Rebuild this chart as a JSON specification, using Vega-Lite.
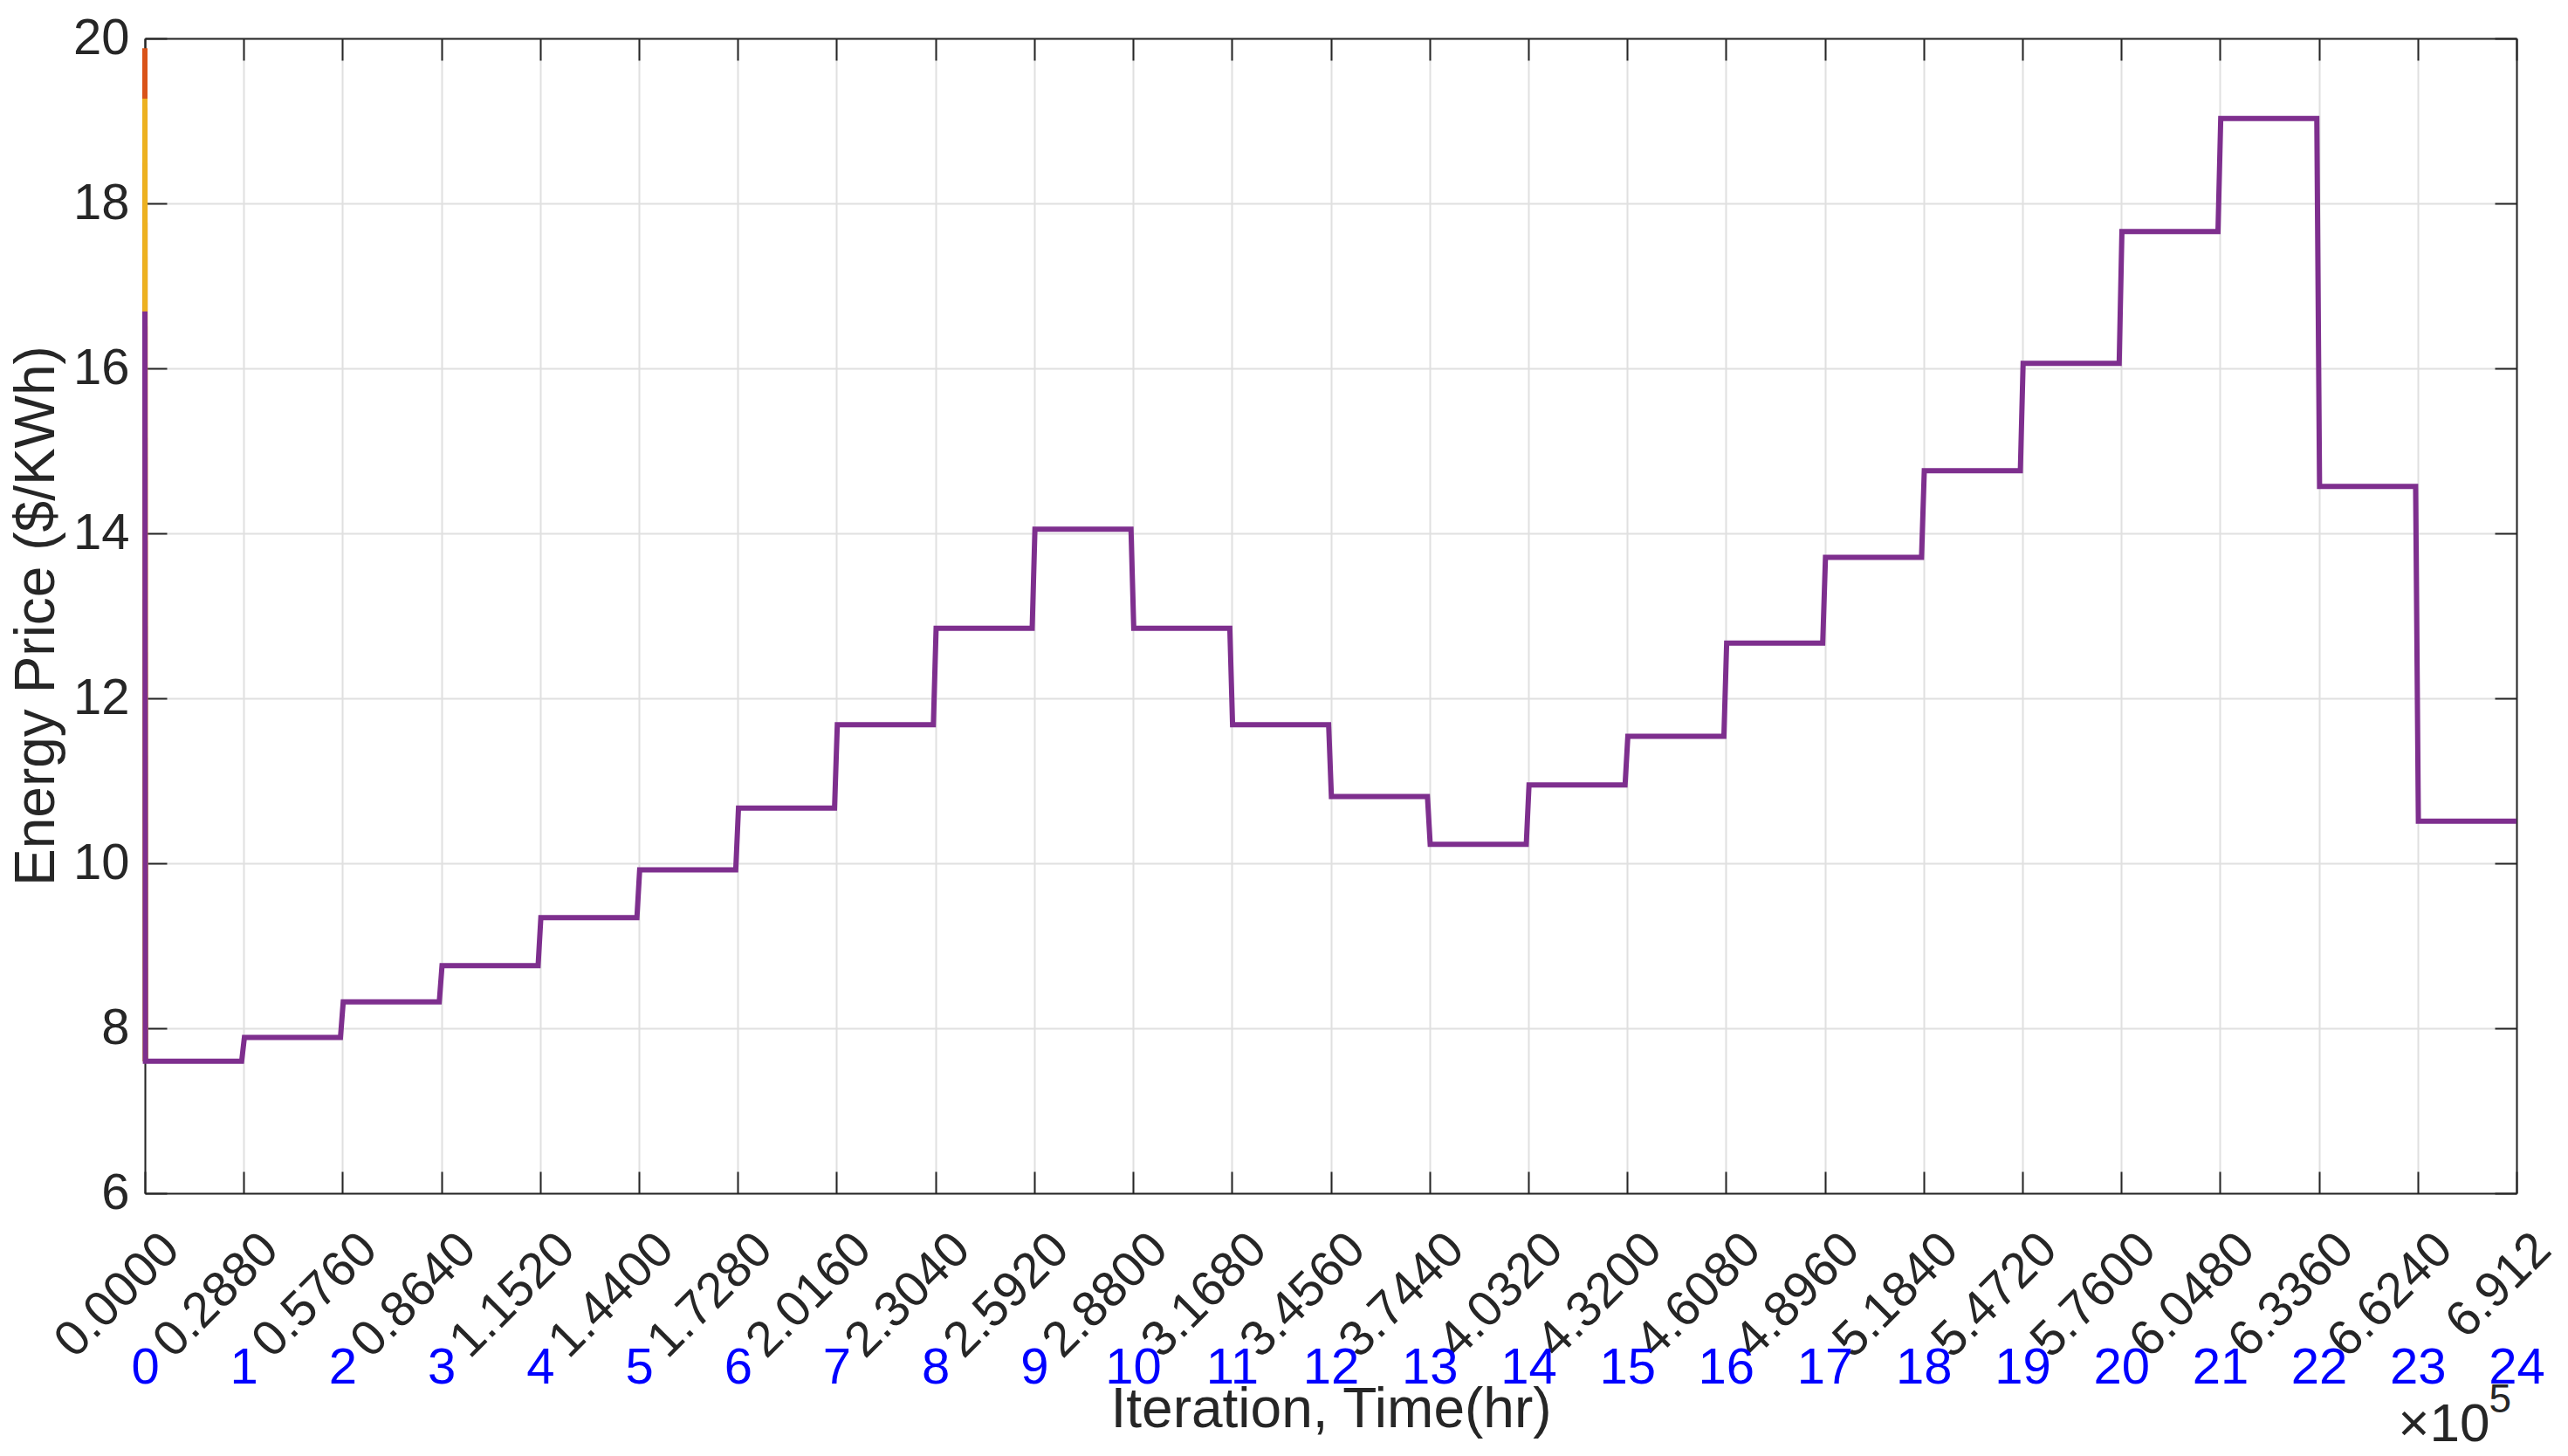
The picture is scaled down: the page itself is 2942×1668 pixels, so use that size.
{
  "$schema": "https://vega.github.io/schema/vega-lite/v6.json",
  "width": 2717,
  "height": 1323,
  "autosize": {"type": "none"},
  "padding": {"left": 166, "top": 44, "right": 59, "bottom": 301},
  "background": "white",
  "config": {
    "view": {"stroke": null},
    "font": "Liberation Sans",
    "axis": {"titleFontWeight": "normal", "labelColor": "#262626", "titleColor": "#262626", "domainColor": "#262626", "tickColor": "#262626", "domainWidth": 2, "tickWidth": 2, "gridColor": "#e0e0e0", "gridWidth": 2, "gridOpacity": 1, "labelFlush": false, "labelOverlap": false, "labelBound": false}
  },
  "datasets": {
    "price": [
      {"series": "blue", "iter": 0, "price": 13.2},
      {"series": "blue", "iter": 150, "price": 7.6},
      {"series": "red", "iter": 0, "price": 19.88},
      {"series": "red", "iter": 150, "price": 7.6},
      {"series": "yellow", "iter": 0, "price": 19.27},
      {"series": "yellow", "iter": 150, "price": 7.6},
      {"series": "purple", "iter": 0, "price": 16.69},
      {"series": "purple", "iter": 150, "price": 7.6},
      {"series": "purple", "iter": 28200, "price": 7.6},
      {"series": "purple", "iter": 29000, "price": 7.89},
      {"series": "purple", "iter": 57000, "price": 7.89},
      {"series": "purple", "iter": 57800, "price": 8.32},
      {"series": "purple", "iter": 85800, "price": 8.32},
      {"series": "purple", "iter": 86600, "price": 8.76},
      {"series": "purple", "iter": 114600, "price": 8.76},
      {"series": "purple", "iter": 115400, "price": 9.34},
      {"series": "purple", "iter": 143400, "price": 9.34},
      {"series": "purple", "iter": 144200, "price": 9.92},
      {"series": "purple", "iter": 172200, "price": 9.92},
      {"series": "purple", "iter": 173000, "price": 10.67},
      {"series": "purple", "iter": 201000, "price": 10.67},
      {"series": "purple", "iter": 201800, "price": 11.68},
      {"series": "purple", "iter": 229800, "price": 11.68},
      {"series": "purple", "iter": 230600, "price": 12.85},
      {"series": "purple", "iter": 258600, "price": 12.85},
      {"series": "purple", "iter": 259400, "price": 14.05},
      {"series": "purple", "iter": 287400, "price": 14.05},
      {"series": "purple", "iter": 288200, "price": 12.85},
      {"series": "purple", "iter": 316200, "price": 12.85},
      {"series": "purple", "iter": 317000, "price": 11.68},
      {"series": "purple", "iter": 345000, "price": 11.68},
      {"series": "purple", "iter": 345800, "price": 10.81},
      {"series": "purple", "iter": 373800, "price": 10.81},
      {"series": "purple", "iter": 374600, "price": 10.23},
      {"series": "purple", "iter": 402600, "price": 10.23},
      {"series": "purple", "iter": 403400, "price": 10.95},
      {"series": "purple", "iter": 431400, "price": 10.95},
      {"series": "purple", "iter": 432200, "price": 11.54},
      {"series": "purple", "iter": 460200, "price": 11.54},
      {"series": "purple", "iter": 461000, "price": 12.67},
      {"series": "purple", "iter": 489000, "price": 12.67},
      {"series": "purple", "iter": 489800, "price": 13.71},
      {"series": "purple", "iter": 517800, "price": 13.71},
      {"series": "purple", "iter": 518600, "price": 14.76},
      {"series": "purple", "iter": 546600, "price": 14.76},
      {"series": "purple", "iter": 547400, "price": 16.06},
      {"series": "purple", "iter": 575400, "price": 16.06},
      {"series": "purple", "iter": 576200, "price": 17.66},
      {"series": "purple", "iter": 604200, "price": 17.66},
      {"series": "purple", "iter": 605000, "price": 19.03},
      {"series": "purple", "iter": 633000, "price": 19.03},
      {"series": "purple", "iter": 633800, "price": 14.57},
      {"series": "purple", "iter": 661800, "price": 14.57},
      {"series": "purple", "iter": 662600, "price": 10.51},
      {"series": "purple", "iter": 691200, "price": 10.51}
    ],
    "hours": [
      {"hour": 0}, {"hour": 1}, {"hour": 2}, {"hour": 3}, {"hour": 4}, {"hour": 5}, {"hour": 6}, {"hour": 7}, {"hour": 8}, {"hour": 9}, {"hour": 10}, {"hour": 11}, {"hour": 12},
      {"hour": 13}, {"hour": 14}, {"hour": 15}, {"hour": 16}, {"hour": 17}, {"hour": 18}, {"hour": 19}, {"hour": 20}, {"hour": 21}, {"hour": 22}, {"hour": 23}, {"hour": 24}
    ],
    "corners": [
      {"iter": 0, "price": 6},
      {"iter": 691200, "price": 20}
    ]
  },
  "layer": [
    {
      "data": {"name": "price"},
      "encoding": {
        "x": {
          "field": "iter", "type": "quantitative",
          "scale": {"domain": [0, 691200], "nice": false, "zero": false},
          "axis": {
            "orient": "bottom",
            "values": [0, 28800, 57600, 86400, 115200, 144000, 172800, 201600, 230400, 259200, 288000, 316800, 345600, 374400, 403200, 432000, 460800, 489600, 518400, 547200, 576000, 604800, 633600, 662400, 691200],
            "labelExpr": "datum.value == 691200 ? '6.912' : format(datum.value / 100000, '.4f')",
            "labelAngle": -45, "labelAlign": "right", "labelBaseline": "middle",
            "labelFontSize": 57, "labelPadding": 80, "labelOffset": 30,
            "tickSize": -25,
            "grid": true,
            "title": "×10", "titleX": 2686, "titleY": 283, "titleAlign": "right", "titleBaseline": "alphabetic", "titleFontSize": 62, "titleAngle": 0
          }
        },
        "y": {
          "field": "price", "type": "quantitative",
          "scale": {"domain": [6, 20], "nice": false, "zero": false},
          "axis": {
            "orient": "left",
            "values": [6, 8, 10, 12, 14, 16, 18, 20],
            "labelFontSize": 58, "labelPadding": 43,
            "tickSize": -25,
            "grid": true,
            "title": "Energy Price ($/KWh)", "titleFontSize": 64,
            "titleX": -124, "titleY": 661, "titleAngle": -90, "titleAlign": "center", "titleBaseline": "middle"
          }
        }
      },
      "layer": [
        {"transform": [{"filter": "datum.series == 'blue'"}], "mark": {"type": "line", "color": "#0072BD", "strokeWidth": 6, "clip": false}},
        {"transform": [{"filter": "datum.series == 'red'"}], "mark": {"type": "line", "color": "#D95319", "strokeWidth": 6, "clip": false}},
        {"transform": [{"filter": "datum.series == 'yellow'"}], "mark": {"type": "line", "color": "#EDB120", "strokeWidth": 6, "clip": false}},
        {"transform": [{"filter": "datum.series == 'purple'"}], "mark": {"type": "line", "color": "#7E2F8E", "strokeWidth": 6, "clip": false}}
      ]
    },
    {
      "data": {"name": "hours"},
      "mark": {"type": "rule", "opacity": 0},
      "encoding": {
        "x": {
          "field": "hour", "type": "quantitative",
          "scale": {"domain": [0, 24], "nice": false, "zero": false},
          "axis": {
            "orient": "bottom",
            "values": [0, 1, 2, 3, 4, 5, 6, 7, 8, 9, 10, 11, 12, 13, 14, 15, 16, 17, 18, 19, 20, 21, 22, 23, 24],
            "domain": false, "ticks": false, "grid": false,
            "labelColor": "#0000FF", "labelFontSize": 58, "labelPadding": 200, "labelBaseline": "middle", "labelAlign": "center", "labelAngle": 0,
            "title": "Iteration, Time(hr)", "titleFontSize": 64, "titleY": 267, "titleBaseline": "alphabetic", "titleAngle": 0
          }
        }
      }
    },
    {
      "data": {"name": "corners"},
      "mark": {"type": "point", "opacity": 0},
      "encoding": {
        "x": {
          "field": "iter", "type": "quantitative",
          "scale": {"domain": [0, 691200], "nice": false, "zero": false},
          "axis": {
            "orient": "top",
            "values": [0, 28800, 57600, 86400, 115200, 144000, 172800, 201600, 230400, 259200, 288000, 316800, 345600, 374400, 403200, 432000, 460800, 489600, 518400, 547200, 576000, 604800, 633600, 662400, 691200],
            "labels": false, "grid": false, "tickSize": -25, "title": null
          }
        },
        "y": {
          "field": "price", "type": "quantitative",
          "scale": {"domain": [6, 20], "nice": false, "zero": false},
          "axis": {
            "orient": "right",
            "values": [6, 8, 10, 12, 14, 16, 18, 20],
            "labels": false, "grid": false, "tickSize": -25,
            "title": "5", "titleX": -32, "titleY": 1573, "titleAngle": 0, "titleAlign": "left", "titleBaseline": "alphabetic", "titleFontSize": 46
          }
        }
      }
    }
  ],
  "resolve": {
    "scale": {"x": "independent", "y": "independent"},
    "axis": {"x": "independent", "y": "independent"}
  }
}
